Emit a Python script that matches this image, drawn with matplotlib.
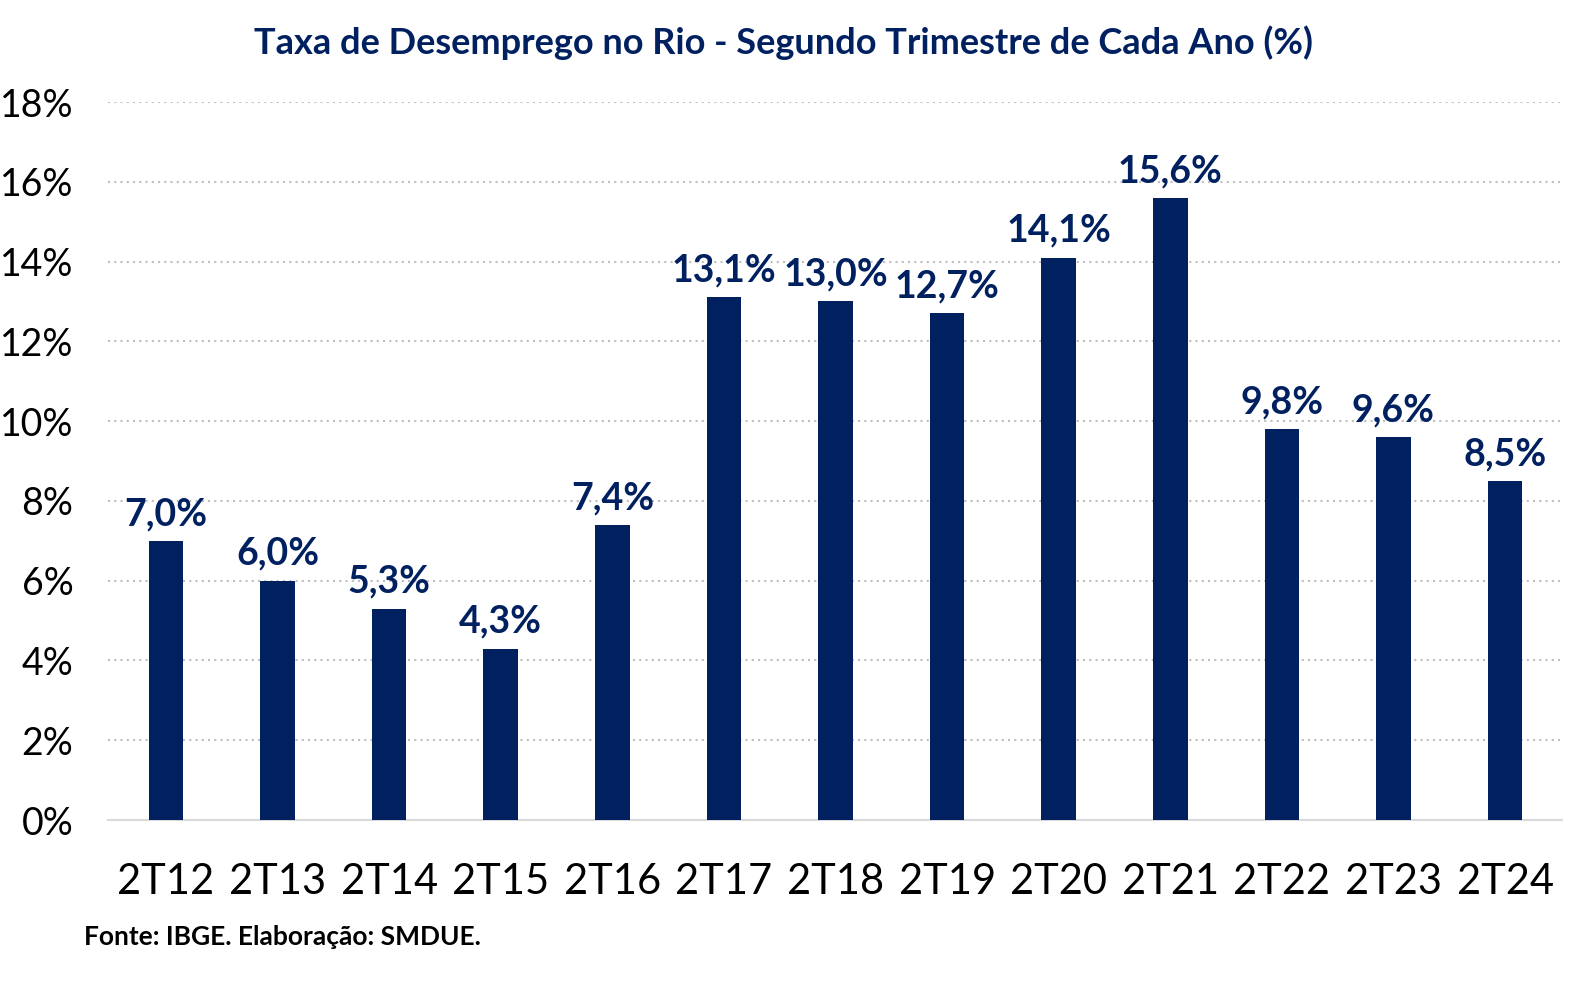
import matplotlib
matplotlib.use('Agg')
import matplotlib.pyplot as plt

# data
categories = ["2T12", "2T13", "2T14", "2T15", "2T16", "2T17", "2T18",
              "2T19", "2T20", "2T21", "2T22", "2T23", "2T24"]
values = [7.0, 6.0, 5.3, 4.3, 7.4, 13.1, 13.0, 12.7, 14.1, 15.6, 9.8, 9.6, 8.5]
y_ticks = [0, 2, 4, 6, 8, 10, 12, 14, 16, 18]

navy = "#002060"
plt.rcParams['font.family'] = ['Lato', 'DejaVu Sans']

fig = plt.figure(figsize=(15.79, 9.83), dpi=100)
ax = fig.add_axes([0.0684, 0.1658, 0.9208, 0.7304])

x = list(range(len(categories)))
ax.bar(x, values, width=0.31, color=navy, zorder=3)

for xi, v in zip(x, values):
    ax.annotate(f"{v:.1f}%".replace(".", ","), (xi, v), xytext=(0, 7),
                textcoords="offset points", ha="center", va="bottom",
                fontsize=27, fontweight="bold", color=navy, annotation_clip=False)

ax.set_xlim(-0.52, len(categories) - 0.49)
ax.set_ylim(0, 18)
ax.set_yticks(y_ticks)
ax.set_yticklabels([f"{t}%" for t in y_ticks])
ax.set_xticks(x)
ax.set_xticklabels(categories)
ax.tick_params(axis="both", length=0, colors="black")
ax.tick_params(axis="y", pad=25, labelsize=27)
ax.tick_params(axis="x", pad=31, labelsize=30)

ax.yaxis.grid(True, linestyle=(0, (1, 2)), color="#BFBFBF", linewidth=1.5, zorder=0)
for s in ["top", "right", "left"]:
    ax.spines[s].set_visible(False)
ax.spines["bottom"].set_color("#D9D9D9")
ax.spines["bottom"].set_linewidth(1.5)

fig.text(0.496, 0.957, "Taxa de Desemprego no Rio - Segundo Trimestre de Cada Ano (%)",
         ha="center", va="center", fontsize=26, fontweight="bold", color=navy)
fig.text(0.053, 0.047, "Fonte: IBGE. Elaboração: SMDUE.", ha="left", va="center",
         fontsize=19, fontweight="bold", color="black")

fig.savefig("out.png", dpi=100)
